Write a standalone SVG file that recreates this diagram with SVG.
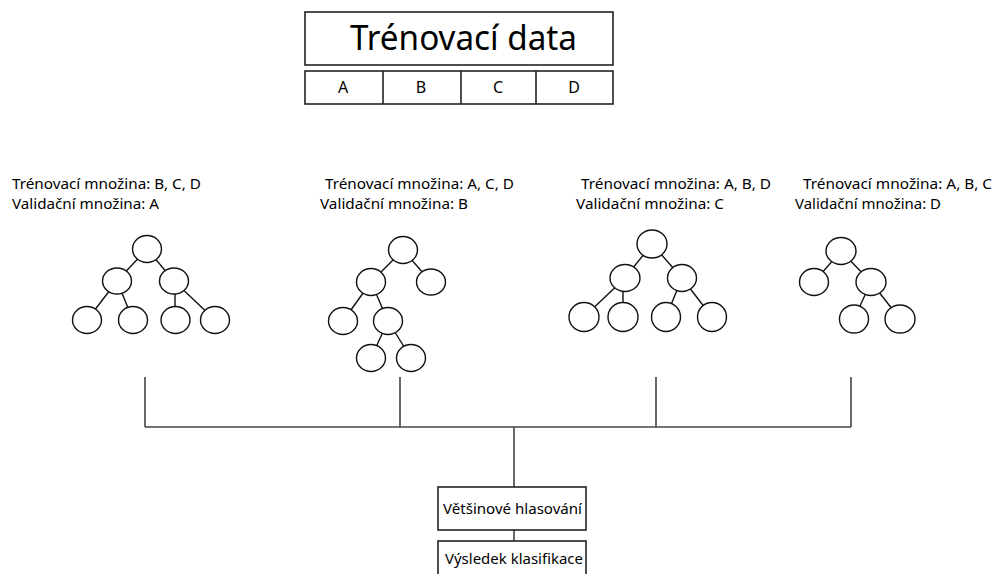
<svg xmlns="http://www.w3.org/2000/svg" width="994" height="574" viewBox="0 0 994 574">
<style>
  .box { fill: #fff; stroke: #222; stroke-width: 1.6; }
  .cell { fill: none; stroke: #222; stroke-width: 1.6; }
  .t { font-family: "Noto Sans", "Open Sans", sans-serif; fill: #000; }
  .lbl { font-size: 15px; }
  .node { fill: #fff; stroke: #111; stroke-width: 1.4; }
  .edge { stroke: #111; stroke-width: 1.4; fill: none; }
  .conn { stroke: #444; stroke-width: 1.6; fill: none; }
</style>
<rect width="994" height="574" fill="#fff"/>

<g id="trenovaci-data">
  <rect class="box" x="305" y="12" width="308" height="53"/>
  <text class="t" x="350" y="50" font-size="34" textLength="227" lengthAdjust="spacingAndGlyphs">Trénovací data</text>
</g>
<g id="parts">
  <rect class="box" x="305" y="71" width="308" height="33"/>
  <line class="cell" x1="383" y1="71" x2="383" y2="104"/>
  <line class="cell" x1="461" y1="71" x2="461" y2="104"/>
  <line class="cell" x1="536" y1="71" x2="536" y2="104"/>
  <text class="t" x="343" y="93" font-size="16" text-anchor="middle">A</text>
  <text class="t" x="421" y="93" font-size="16" text-anchor="middle">B</text>
  <text class="t" x="498" y="93" font-size="16" text-anchor="middle">C</text>
  <text class="t" x="574" y="93" font-size="16" text-anchor="middle">D</text>
</g>

<g id="fold1">
  <text class="t lbl" x="12" y="189" textLength="189" lengthAdjust="spacingAndGlyphs">Trénovací množina: B, C, D</text>
  <text class="t lbl" x="12" y="209" textLength="147" lengthAdjust="spacingAndGlyphs">Validační množina: A</text>
  <g class="tree">
    <line class="edge" x1="147" y1="249" x2="117" y2="281"/>
    <line class="edge" x1="147" y1="249" x2="174" y2="281"/>
    <line class="edge" x1="117" y1="281" x2="87" y2="320"/>
    <line class="edge" x1="117" y1="281" x2="133" y2="320"/>
    <line class="edge" x1="175" y1="281" x2="175" y2="320"/>
    <line class="edge" x1="174" y1="281" x2="215" y2="320"/>
    <ellipse class="node" cx="147" cy="249" rx="14.5" ry="13.5"/>
    <ellipse class="node" cx="117" cy="281" rx="14.5" ry="13"/>
    <ellipse class="node" cx="174" cy="281" rx="14.5" ry="13"/>
    <ellipse class="node" cx="87" cy="320" rx="14.5" ry="13.5"/>
    <ellipse class="node" cx="133" cy="320" rx="14.5" ry="13.5"/>
    <ellipse class="node" cx="175.5" cy="320" rx="14.5" ry="13.5"/>
    <ellipse class="node" cx="215" cy="320" rx="14.5" ry="13.5"/>
  </g>
</g>

<g id="fold2">
  <text class="t lbl" x="325" y="189" textLength="189" lengthAdjust="spacingAndGlyphs">Trénovací množina: A, C, D</text>
  <text class="t lbl" x="320" y="209" textLength="148" lengthAdjust="spacingAndGlyphs">Validační množina: B</text>
  <g class="tree">
    <line class="edge" x1="403" y1="250" x2="371" y2="282"/>
    <line class="edge" x1="403" y1="250" x2="431" y2="282"/>
    <line class="edge" x1="371" y1="282" x2="343" y2="321"/>
    <line class="edge" x1="371" y1="282" x2="388" y2="321"/>
    <line class="edge" x1="388" y1="321" x2="371" y2="358"/>
    <line class="edge" x1="388" y1="321" x2="411" y2="358"/>
    <ellipse class="node" cx="403" cy="250" rx="14.5" ry="13.5"/>
    <ellipse class="node" cx="371" cy="282" rx="14.5" ry="13.5"/>
    <ellipse class="node" cx="431" cy="282" rx="14.5" ry="13"/>
    <ellipse class="node" cx="343" cy="321" rx="14.5" ry="13.5"/>
    <ellipse class="node" cx="388" cy="321" rx="14.5" ry="13.5"/>
    <ellipse class="node" cx="371" cy="358" rx="14.5" ry="13.5"/>
    <ellipse class="node" cx="411" cy="358" rx="14.5" ry="13.5"/>
  </g>
</g>

<g id="fold3">
  <text class="t lbl" x="581" y="189" textLength="190" lengthAdjust="spacingAndGlyphs">Trénovací množina: A, B, D</text>
  <text class="t lbl" x="576" y="209" textLength="148" lengthAdjust="spacingAndGlyphs">Validační množina: C</text>
  <g class="tree">
    <line class="edge" x1="652" y1="244" x2="625" y2="278"/>
    <line class="edge" x1="652" y1="244" x2="682" y2="278"/>
    <line class="edge" x1="625" y1="278" x2="584" y2="317"/>
    <line class="edge" x1="623" y1="278" x2="623" y2="317"/>
    <line class="edge" x1="682" y1="278" x2="666" y2="317"/>
    <line class="edge" x1="682" y1="278" x2="712" y2="317"/>
    <ellipse class="node" cx="652" cy="244" rx="15" ry="14"/>
    <ellipse class="node" cx="625" cy="278" rx="15" ry="13.5"/>
    <ellipse class="node" cx="682" cy="278" rx="14.5" ry="13.5"/>
    <ellipse class="node" cx="584" cy="317" rx="15" ry="14.5"/>
    <ellipse class="node" cx="623" cy="317" rx="15" ry="14.5"/>
    <ellipse class="node" cx="666" cy="317" rx="14.5" ry="14.5"/>
    <ellipse class="node" cx="712" cy="317" rx="14.5" ry="14.5"/>
  </g>
</g>

<g id="fold4">
  <text class="t lbl" x="803" y="189" textLength="189" lengthAdjust="spacingAndGlyphs">Trénovací množina: A, B, C</text>
  <text class="t lbl" x="795" y="209" textLength="146" lengthAdjust="spacingAndGlyphs">Validační množina: D</text>
  <g class="tree">
    <line class="edge" x1="841" y1="251" x2="814" y2="282"/>
    <line class="edge" x1="841" y1="251" x2="871" y2="282"/>
    <line class="edge" x1="871" y1="282" x2="854" y2="319"/>
    <line class="edge" x1="871" y1="282" x2="900" y2="319"/>
    <ellipse class="node" cx="841" cy="251" rx="15" ry="13.5"/>
    <ellipse class="node" cx="814" cy="282" rx="14.5" ry="13.5"/>
    <ellipse class="node" cx="871" cy="282" rx="15" ry="13.5"/>
    <ellipse class="node" cx="854" cy="319" rx="14.5" ry="14"/>
    <ellipse class="node" cx="900" cy="319" rx="15" ry="14"/>
  </g>
</g>

<g id="connectors">
  <line class="conn" x1="145" y1="377" x2="145" y2="427"/>
  <line class="conn" x1="400" y1="377" x2="400" y2="427"/>
  <line class="conn" x1="656" y1="377" x2="656" y2="427"/>
  <line class="conn" x1="851" y1="377" x2="851" y2="427"/>
  <line class="conn" x1="145" y1="427" x2="851" y2="427"/>
  <line class="conn" x1="514" y1="427" x2="514" y2="487"/>
  <line class="conn" x1="514" y1="530" x2="514" y2="541"/>
</g>

<g id="vetsinove-hlasovani">
  <rect class="box" x="438" y="487" width="148" height="43"/>
  <text class="t" x="443" y="514" font-size="15" textLength="139" lengthAdjust="spacingAndGlyphs">Většinové hlasování</text>
</g>
<g id="vysledek-klasifikace">
  <rect class="box" x="438" y="541" width="148" height="40"/>
  <text class="t" x="445" y="564" font-size="15" textLength="138" lengthAdjust="spacingAndGlyphs">Výsledek klasifikace</text>
</g>
</svg>
